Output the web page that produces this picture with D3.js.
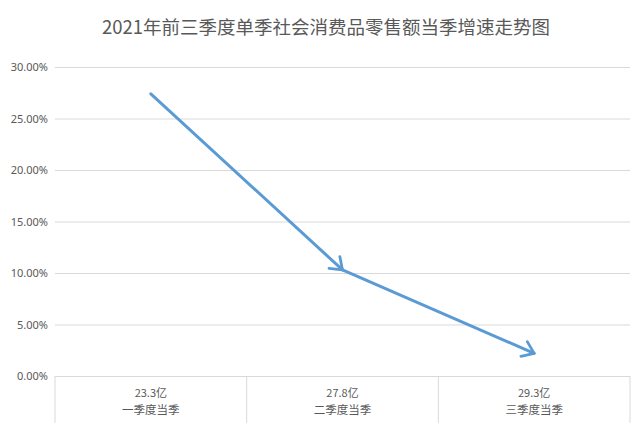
<!DOCTYPE html>
<html>
<head>
<meta charset="utf-8">
<script src="https://cdn.jsdelivr.net/npm/d3@7"></script>
<style>
  html, body { margin: 0; padding: 0; background: #fff; }
  svg text { font-family: "Noto Sans CJK SC", "Noto Sans", sans-serif; fill: #595959; }
</style>
</head>
<body>
<div class="visual"></div>
<script>
const [width, height] = [644, 443];
const TITLE = '2021年前三季度单季社会消费品零售额当季增速走势图';

const quarters = ['一季度当季', '二季度当季', '三季度当季'];
const amounts = ['23.3亿', '27.8亿', '29.3亿'];
const growth = [0.274, 0.103, 0.022];
const y_ticks = [0, 0.05, 0.1, 0.15, 0.2, 0.25, 0.3];

const margin = { left: 55, right: 14, top: 67, bottom: 67 };
const LINE_COLOR = '#5b9bd5';
const GRID_COLOR = '#d9d9d9';

const svg = d3
  .select('.visual')
  .append('svg')
  .attr('width', width)
  .attr('height', height);

const x_scale = d3
  .scaleBand()
  .domain(quarters)
  .range([margin.left, width - margin.right])
  .padding(0);

const y_scale = d3
  .scaleLinear()
  .domain([0, 0.3])
  .range([height - margin.bottom, margin.top]);

// title
svg
  .append('text')
  .attr('x', width / 2 + 4)
  .attr('y', 34)
  .attr('text-anchor', 'middle')
  .style('font-size', '18.5px')
  .text(TITLE);

// y axis with gridlines
const y_axis = d3
  .axisLeft(y_scale)
  .tickValues(y_ticks)
  .tickFormat(d3.format('.2%'))
  .tickSize(-(width - margin.left - margin.right))
  .tickPadding(7);

const y_g = svg
  .append('g')
  .attr('transform', `translate(${margin.left}, 0)`)
  .call(y_axis);
y_g.select('.domain').remove();
y_g.selectAll('.tick line').attr('stroke', GRID_COLOR);
y_g
  .selectAll('.tick text')
  .style('font-size', '11px')
  .style('font-family', '"Noto Sans", sans-serif')
  .attr('fill', '#595959');

// category box below baseline
const base_y = y_scale(0);
const box_bottom = 423;
const bounds = quarters.map((q) => x_scale(q)).concat([x_scale(quarters[2]) + x_scale.bandwidth()]);

svg
  .selectAll('line.sep')
  .data(bounds)
  .enter()
  .append('line')
  .attr('class', 'sep')
  .attr('x1', (d) => d)
  .attr('x2', (d) => d)
  .attr('y1', base_y)
  .attr('y2', box_bottom)
  .attr('stroke', GRID_COLOR);

svg
  .selectAll('text.amount')
  .data(amounts)
  .enter()
  .append('text')
  .attr('class', 'amount')
  .attr('x', (d, i) => x_scale(quarters[i]) + x_scale.bandwidth() / 2)
  .attr('y', 397)
  .attr('text-anchor', 'middle')
  .style('font-size', '11px')
  .text((d) => d);

svg
  .selectAll('text.quarter')
  .data(quarters)
  .enter()
  .append('text')
  .attr('class', 'quarter')
  .attr('x', (d) => x_scale(d) + x_scale.bandwidth() / 2)
  .attr('y', 414)
  .attr('text-anchor', 'middle')
  .style('font-size', '11.5px')
  .text((d) => d);

// arrow marker
svg
  .append('defs')
  .append('marker')
  .attr('id', 'arrow')
  .attr('markerUnits', 'userSpaceOnUse')
  .attr('viewBox', '-14 -10 16 20')
  .attr('refX', 0)
  .attr('refY', 0)
  .attr('markerWidth', 16)
  .attr('markerHeight', 20)
  .attr('orient', 'auto')
  .append('path')
  .attr('d', 'M-11,-8 L0,0 L-11,8')
  .attr('fill', 'none')
  .attr('stroke', LINE_COLOR)
  .attr('stroke-width', 2.8)
  .attr('stroke-linecap', 'round')
  .attr('stroke-linejoin', 'round');

// arrow segments
const pts = growth.map((g, i) => [x_scale(quarters[i]) + x_scale.bandwidth() / 2, y_scale(g)]);
const segments = d3.pairs(pts);

svg
  .selectAll('path.seg')
  .data(segments)
  .enter()
  .append('path')
  .attr('class', 'seg')
  .attr('d', (d) => d3.line()(d))
  .attr('fill', 'none')
  .attr('stroke', LINE_COLOR)
  .attr('stroke-width', 3)
  .attr('stroke-linecap', 'round')
  .attr('marker-end', 'url(#arrow)');
</script>
</body>
</html>
